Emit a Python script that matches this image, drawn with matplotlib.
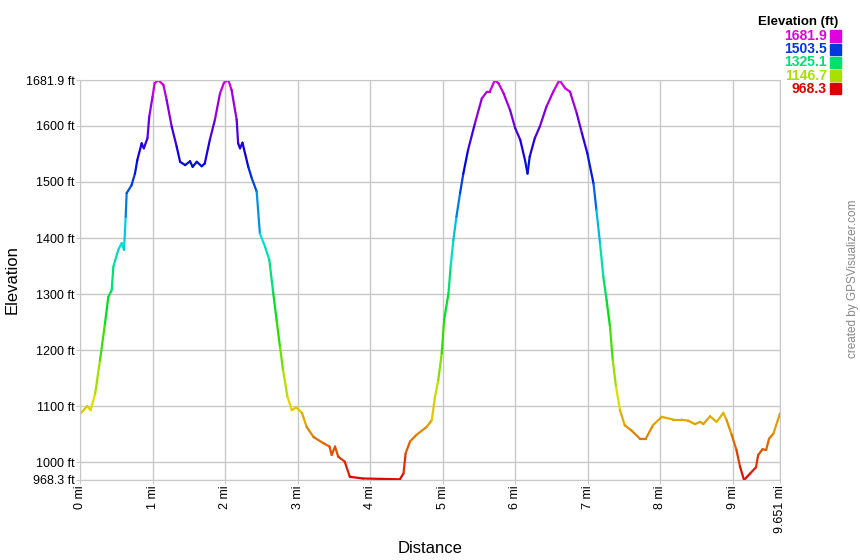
"""Profil d'altitude façon GPSVisualizer"""
import matplotlib
matplotlib.use("Agg")
import matplotlib.pyplot as plt
from matplotlib.collections import LineCollection
from matplotlib.colors import hsv_to_rgb
import numpy as np

plt.rcParams['font.family'] = ['Liberation Sans', 'DejaVu Sans']

# distances (mi) et altitudes (ft)
dist = [0.0, 0.10, 0.147, 0.21, 0.276, 0.345, 0.39, 0.437, 0.46, 0.528, 0.575,
        0.607, 0.63, 0.643, 0.71, 0.758, 0.79, 0.85, 0.88, 0.93, 0.955, 1.0,
        1.03, 1.08, 1.15, 1.195, 1.264, 1.333, 1.38, 1.45, 1.517, 1.553, 1.61,
        1.678, 1.72, 1.79, 1.86, 1.93, 1.985, 2.045, 2.09, 2.16, 2.18, 2.206,
        2.24, 2.32, 2.37, 2.436, 2.48, 2.55, 2.61, 2.665, 2.71, 2.757, 2.8,
        2.86, 2.92, 2.98, 3.06, 3.125, 3.22, 3.355, 3.44, 3.47, 3.516, 3.56,
        3.65, 3.72, 3.9, 4.41, 4.46, 4.49, 4.55, 4.64, 4.78, 4.85, 4.895, 4.94,
        4.987, 5.02, 5.08, 5.11, 5.147, 5.19, 5.24, 5.285, 5.35, 5.446, 5.54,
        5.61, 5.65, 5.72, 5.77, 5.84, 5.93, 6.0, 6.07, 6.135, 6.17, 6.2, 6.27,
        6.34, 6.43, 6.525, 6.61, 6.69, 6.756, 6.85, 6.92, 6.995, 7.08, 7.12,
        7.17, 7.215, 7.26, 7.307, 7.345, 7.39, 7.445, 7.51, 7.6, 7.72, 7.8,
        7.9, 8.02, 8.18, 8.295, 8.385, 8.48, 8.55, 8.594, 8.64, 8.686, 8.778,
        8.87, 8.915, 8.985, 9.05, 9.1, 9.155, 9.24, 9.32, 9.35, 9.41, 9.46,
        9.5, 9.56, 9.651]
elev = [1086, 1100, 1093, 1123, 1182, 1248, 1295, 1307, 1349, 1379, 1391,
        1379, 1438, 1480, 1494, 1515, 1539, 1569, 1560, 1578, 1617, 1652,
        1676, 1681.9, 1673, 1646, 1599, 1563, 1536, 1530, 1537, 1527, 1536,
        1528, 1533, 1575, 1611, 1658, 1677, 1681.9, 1664, 1611, 1569, 1560,
        1570, 1527, 1506, 1483, 1408, 1385, 1361, 1301, 1254, 1206, 1164,
        1117, 1093, 1098, 1088, 1063, 1045, 1034, 1028, 1013, 1028, 1010,
        1001, 974, 971, 969.5, 980, 1016, 1037, 1049, 1063, 1075, 1117, 1147,
        1194, 1254, 1301, 1349, 1396, 1438, 1480, 1515, 1557, 1605, 1649,
        1661, 1661, 1681.9, 1676, 1658, 1628, 1596, 1575, 1539, 1515, 1545,
        1578, 1599, 1634, 1661, 1681.9, 1667, 1661, 1622, 1587, 1551, 1497,
        1450, 1390, 1331, 1289, 1242, 1182, 1135, 1093, 1066, 1057, 1042,
        1042, 1066, 1081, 1076, 1076, 1074, 1068, 1072, 1068, 1075, 1082,
        1072, 1088, 1075, 1049, 1022, 992, 968.3, 980, 991, 1013, 1023, 1022,
        1042, 1051, 1087]

x_ticks = [0, 1, 2, 3, 4, 5, 6, 7, 8, 9, 9.651]
x_labels = ["0 mi", "1 mi", "2 mi", "3 mi", "4 mi", "5 mi", "6 mi", "7 mi",
            "8 mi", "9 mi", "9.651 mi"]
y_ticks = [968.3, 1000, 1100, 1200, 1300, 1400, 1500, 1600, 1681.9]
y_labels = ["968.3 ft", "1000 ft", "1100 ft", "1200 ft", "1300 ft",
            "1400 ft", "1500 ft", "1600 ft", "1681.9 ft"]
legend_vals = [1681.9, 1503.5, 1325.1, 1146.7, 968.3]

e_min, e_max = 968.3, 1681.9


def couleur(e):
	""" teinte de 0 (rouge) à 300 (magenta) selon l'altitude """
	t = np.clip((np.asarray(e) - e_min) / (e_max - e_min), 0, 1)
	hsv = np.stack([t * 300 / 360, np.ones_like(t), np.full_like(t, 0.88)], axis=-1)
	return hsv_to_rgb(hsv)


fig = plt.figure(figsize=(8.6, 5.6), dpi=100)
ax = fig.add_axes([80 / 860, 1 - 480 / 560, 700 / 860, 400 / 560])

x = np.array(dist)
y = np.array(elev)
pts = np.column_stack([x, y]).reshape(-1, 1, 2)
segs = np.concatenate([pts[:-1], pts[1:]], axis=1)
lc = LineCollection(segs, colors=couleur((y[:-1] + y[1:]) / 2), linewidth=1.6,
                    capstyle='round', joinstyle='round')
ax.add_collection(lc)

ax.set_xlim(0, 9.651)
ax.set_ylim(e_min, e_max)
ax.set_xticks(x_ticks)
ax.set_xticklabels(x_labels, rotation=90, fontsize=9)
ax.set_yticks(y_ticks)
ax.set_yticklabels(y_labels, fontsize=9)
ax.grid(True, color='#c8c8c8', linewidth=1)
ax.set_axisbelow(True)
for s in ax.spines.values():
	s.set_color('#c8c8c8')
ax.tick_params(length=3, color='#c8c8c8', pad=1)

ax.set_xlabel("Distance", fontsize=12)
ax.set_ylabel("Elevation", fontsize=12)
ax.xaxis.set_label_coords(0.5, (480 - 541) / 400)
ax.yaxis.set_label_coords((20 - 80) / 700, 0.5)

# légende des couleurs
fig.text(838 / 860, 1 - 22 / 560, "Elevation (ft)", ha='right', va='center',
         fontsize=9.5, fontweight='bold')
for i, v in enumerate(legend_vals):
	yy = 1 - (36 + 13.2 * i) / 560
	fig.text(827 / 860, yy, f"{v}", ha='right', va='center', fontsize=10,
	         fontweight='bold', color=couleur(v))
	fig.patches.append(plt.Rectangle((830 / 860, yy - 5.5 / 560), 11 / 860, 11 / 560,
	                                 transform=fig.transFigure, color=couleur(v)))

fig.text(853 / 860, 1 - 279 / 560, "created by GPSVisualizer.com", rotation=90,
         ha='center', va='center', fontsize=8.5, color='#888888')

fig.savefig("out.png", dpi=100)
